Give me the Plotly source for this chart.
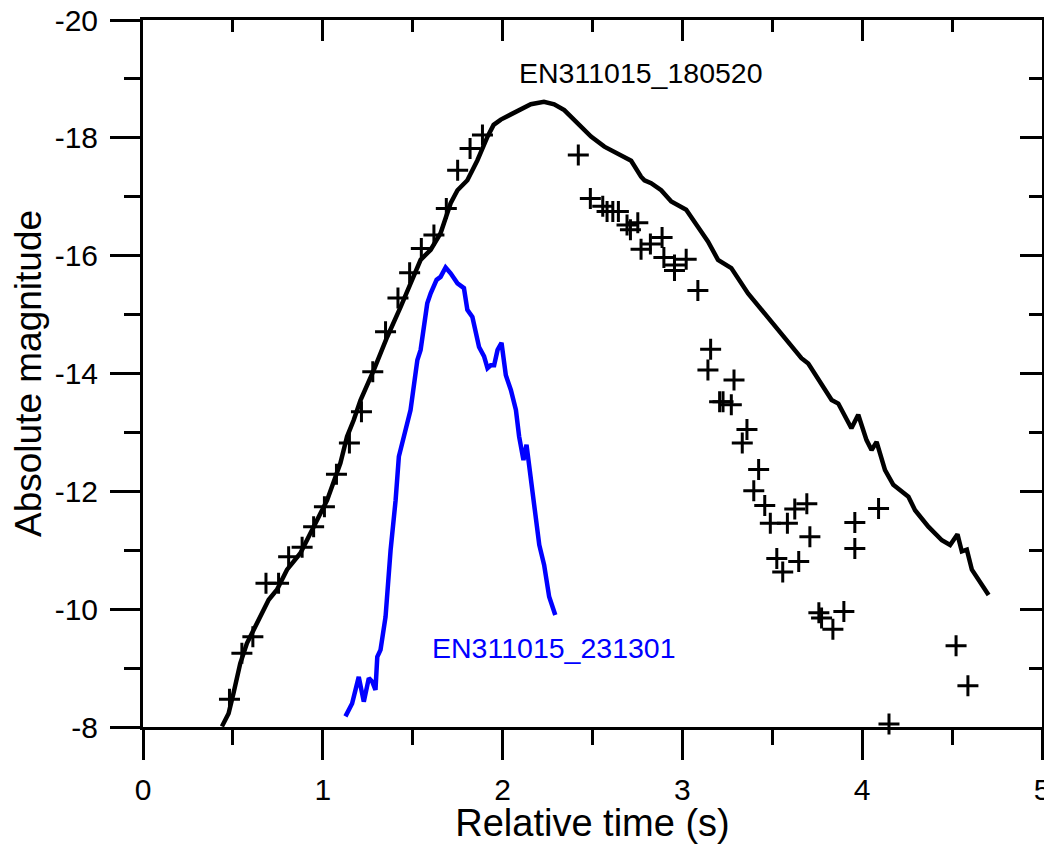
import plotly.graph_objects as go

# observed crosses (EN311015_180520 photometry)
obs_t = [0.414, 0.481, 0.550, 0.611, 0.684, 0.754, 0.810, 0.885, 0.949, 1.009,
         1.076, 1.148, 1.215, 1.278, 1.349, 1.418, 1.483, 1.548, 1.618, 1.687,
         1.750, 1.819, 1.888, 2.421, 2.488, 2.557, 2.581, 2.613, 2.644, 2.692,
         2.711, 2.752, 2.770, 2.822, 2.887, 2.897, 2.956, 2.956, 3.021, 3.086,
         3.142, 3.157, 3.207, 3.226, 3.272, 3.287, 3.333, 3.359, 3.397, 3.424,
         3.458, 3.489, 3.525, 3.558, 3.584, 3.625, 3.647, 3.692, 3.709, 3.759,
         3.774, 3.837, 3.898, 3.959, 3.959, 4.091, 4.149, 4.522, 4.588]
obs_mag = [-7.98, -8.47, -9.25, -9.53, -10.44, -10.44, -10.89, -11.05, -11.40, -11.74,
           -12.29, -12.82, -13.35, -14.03, -14.71, -15.28, -15.71, -16.12, -16.35, -16.80,
           -17.45, -17.82, -18.05, -17.71, -16.97, -16.84, -16.75, -16.75, -16.75, -16.52,
           -16.44, -16.56, -16.11, -16.20, -16.31, -15.97, -15.84, -15.75, -15.94, -15.41,
           -14.06, -14.41, -13.52, -13.52, -13.47, -13.89, -12.82, -13.05, -12.01, -12.37,
           -11.76, -11.46, -10.86, -10.63, -11.46, -11.70, -10.81, -11.79, -11.23, -9.94,
           -9.85, -9.66, -9.96, -11.47, -11.03, -11.71, -8.05, -9.38, -8.70]

# light curve EN311015_180520 (black)
lc1_t = [0.439, 0.476, 0.503, 0.541, 0.578, 0.634, 0.699, 0.745, 0.801, 0.875,
         0.949, 1.024, 1.098, 1.135, 1.172, 1.210, 1.284, 1.358, 1.433, 1.544,
         1.600, 1.655, 1.711, 1.749, 1.804, 1.860, 1.916, 1.950, 1.990, 2.064,
         2.100, 2.157, 2.230, 2.287, 2.343, 2.417, 2.454, 2.492, 2.566, 2.659,
         2.715, 2.770, 2.789, 2.826, 2.882, 2.938, 3.021, 3.086, 3.142, 3.198,
         3.272, 3.365, 3.458, 3.551, 3.662, 3.700, 3.774, 3.830, 3.867, 3.940,
         3.978, 4.024, 4.052, 4.080, 4.127, 4.173, 4.257, 4.294, 4.368, 4.443,
         4.489, 4.530, 4.554, 4.582, 4.610, 4.647, 4.703]
lc1_mag = [-8.01, -8.23, -8.57, -9.08, -9.42, -9.76, -10.16, -10.33, -10.67, -10.95,
           -11.40, -11.85, -12.48, -12.93, -13.21, -13.55, -14.06, -14.62, -15.13, -15.93,
           -16.10, -16.38, -16.89, -17.11, -17.28, -17.62, -18.02, -18.22, -18.31, -18.42,
           -18.48, -18.57, -18.61, -18.57, -18.47, -18.25, -18.13, -18.02, -17.85, -17.71,
           -17.61, -17.34, -17.28, -17.23, -17.11, -16.92, -16.78, -16.49, -16.24, -15.93,
           -15.79, -15.36, -15.02, -14.68, -14.26, -14.17, -13.83, -13.55, -13.49, -13.07,
           -13.30, -12.87, -12.70, -12.84, -12.36, -12.11, -11.91, -11.68, -11.40, -11.17,
           -11.09, -11.27, -10.98, -11.01, -10.67, -10.50, -10.24]

# light curve EN311015_231301 (blue)
lc2_t = [1.126, 1.163, 1.200, 1.228, 1.256, 1.275, 1.293, 1.303, 1.321, 1.349,
         1.377, 1.405, 1.423, 1.451, 1.488, 1.526, 1.544, 1.581, 1.600, 1.633,
         1.655, 1.683, 1.711, 1.749, 1.785, 1.804, 1.832, 1.869, 1.897, 1.916,
         1.934, 1.953, 1.972, 1.994, 2.018, 2.046, 2.074, 2.092, 2.116, 2.133,
         2.152, 2.180, 2.204, 2.231, 2.259, 2.293]
lc2_mag = [-8.18, -8.40, -8.85, -8.43, -8.83, -8.77, -8.63, -9.19, -9.31, -9.87,
           -11.00, -11.85, -12.59, -12.93, -13.38, -14.23, -14.40, -15.19, -15.36, -15.59,
           -15.64, -15.80, -15.70, -15.53, -15.45, -15.08, -14.96, -14.45, -14.29, -14.09,
           -14.14, -14.14, -14.40, -14.52, -13.97, -13.72, -13.38, -12.93, -12.53, -12.79,
           -12.33, -11.68, -11.09, -10.75, -10.21, -9.90]

# tick labels (plain hyphen minus as in the original)
x_ticks = [0, 1, 2, 3, 4, 5]
x_ticktext = ['0', '1', '2', '3', '4', '5']
y_ticks = [-20, -18, -16, -14, -12, -10, -8]
y_ticktext = ['-20', '-18', '-16', '-14', '-12', '-10', '-8']

FONT = "Liberation Sans, Arial, sans-serif"

fig = go.Figure()

fig.add_trace(go.Scatter(
    x=lc1_t, y=lc1_mag, mode='lines', name='EN311015_180520',
    line=dict(color='black', width=4.5), showlegend=False
))
fig.add_trace(go.Scatter(
    x=lc2_t, y=lc2_mag, mode='lines', name='EN311015_231301',
    line=dict(color='#0000ff', width=4.5), showlegend=False
))
fig.add_trace(go.Scatter(
    x=obs_t, y=obs_mag, mode='markers', name='observed', cliponaxis=False,
    marker=dict(symbol='cross-thin', size=15, line=dict(color='black', width=3)),
    showlegend=False
))
# empty trace so the mirrored top/right axes get drawn
fig.add_trace(go.Scatter(x=[], y=[], xaxis='x2', yaxis='y2', showlegend=False,
                         hoverinfo='skip'))

axis_common = dict(showgrid=False, zeroline=False, showline=True, automargin=False,
                   linecolor='black', linewidth=3, tickcolor='black', tickwidth=3)

# page body adds an 8px offset, so the figure is sized to the remaining viewport
fig.update_layout(
    width=1044, height=836,
    margin=dict(l=135, r=10, t=12, b=117),
    paper_bgcolor='white', plot_bgcolor='white',
    font=dict(family=FONT, color='black'),
    xaxis=dict(
        range=[0, 5], tickmode='array', tickvals=x_ticks, ticktext=x_ticktext,
        ticks='outside', ticklen=30, tickfont=dict(size=30), ticklabelstandoff=4,
        ticklabeloverflow='allow',
        minor=dict(dtick=0.5, tick0=0, ticks='outside', ticklen=15, tickwidth=3,
                   tickcolor='black'),
        title=dict(text='Relative time (s)', font=dict(size=38), standoff=6),
        **axis_common
    ),
    yaxis=dict(
        range=[-8, -20], tickmode='array', tickvals=y_ticks, ticktext=y_ticktext,
        ticks='outside', ticklen=30, tickfont=dict(size=30), ticklabelstandoff=6,
        ticklabeloverflow='allow',
        minor=dict(dtick=1, tick0=-20, ticks='outside', ticklen=16, tickwidth=3,
                   tickcolor='black'),
        title=dict(text='Absolute magnitude', font=dict(size=37), standoff=21),
        **axis_common
    ),
    xaxis2=dict(
        overlaying='x', side='top', anchor='y', range=[0, 5], tick0=0, dtick=1,
        ticks='inside', ticklen=21, showticklabels=False,
        minor=dict(dtick=0.5, ticks='inside', ticklen=12, tickwidth=3, tickcolor='black'),
        **axis_common
    ),
    yaxis2=dict(
        overlaying='y', side='right', anchor='x', range=[-8, -20], tick0=-20, dtick=2,
        ticks='inside', ticklen=22, showticklabels=False,
        minor=dict(dtick=1, ticks='inside', ticklen=13, tickwidth=3, tickcolor='black'),
        **axis_common
    ),
    annotations=[
        dict(x=2.77, y=-19.10, xref='x', yref='y', text='EN311015_180520',
             showarrow=False, font=dict(size=28.5, color='black', family=FONT)),
        dict(x=2.285, y=-9.34, xref='x', yref='y', text='EN311015_231301',
             showarrow=False, font=dict(size=28.5, color='#0000ff', family=FONT)),
    ],
)

fig.write_html("out.html")
